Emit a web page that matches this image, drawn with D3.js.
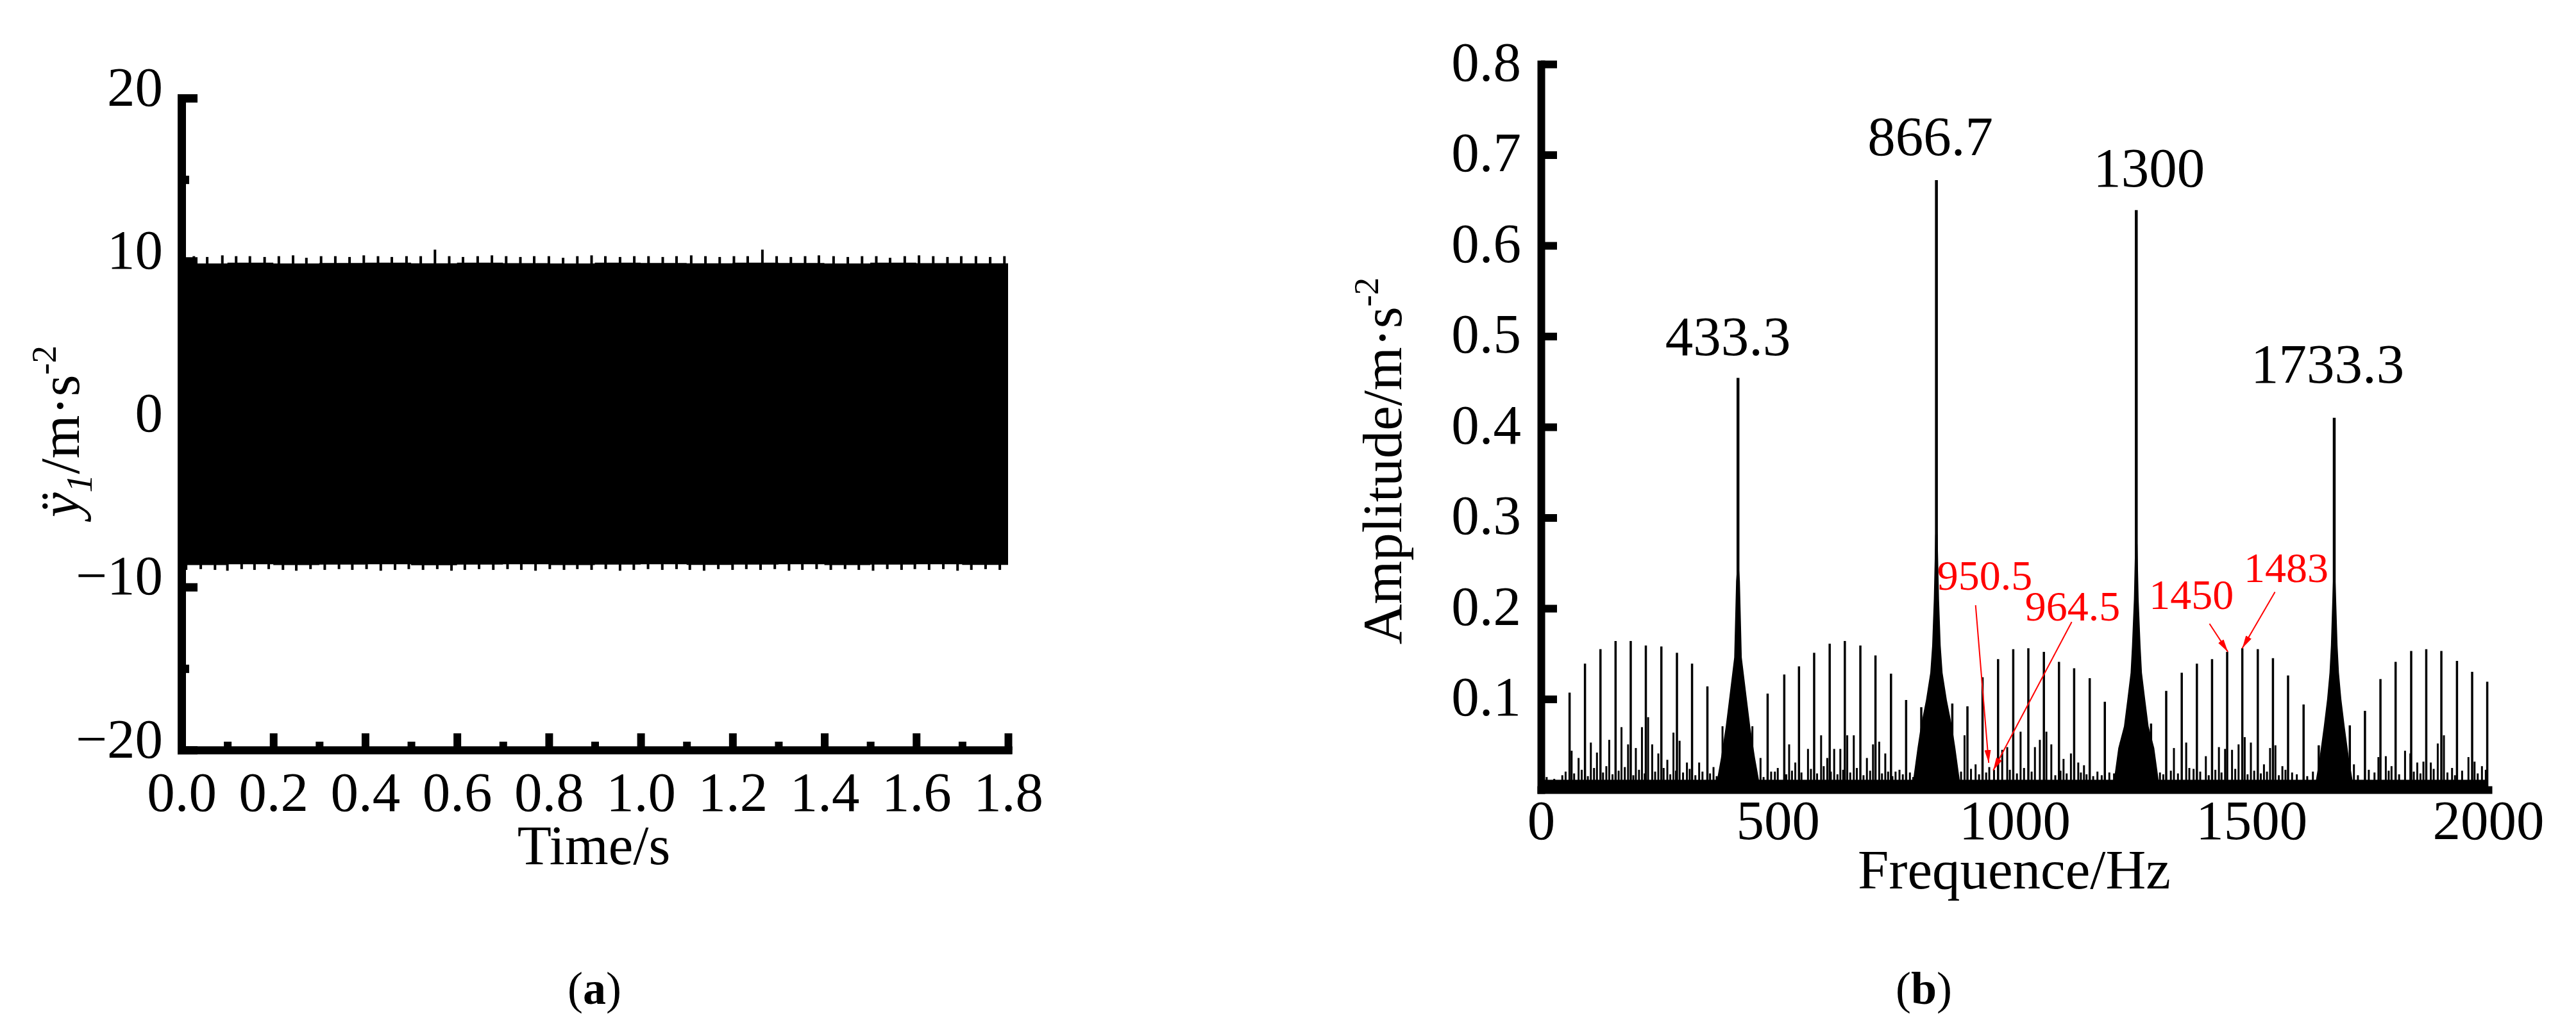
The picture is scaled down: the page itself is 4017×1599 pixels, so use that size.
<!DOCTYPE html>
<html>
<head>
<meta charset="utf-8">
<script src="https://cdn.jsdelivr.net/npm/d3@7"></script>
<style>
    body { margin: 0; background: #fff; }
    svg { display: block; font-family: "Liberation Serif", "Times New Roman", serif; }
</style>
</head>
<body>
<svg id="chart" width="4017" height="1599"></svg>
<script>
// ---------- panel (a): time signal ----------
const timeTicks = [0, 0.2, 0.4, 0.6, 0.8, 1.0, 1.2, 1.4, 1.6, 1.8];
const timeMinorTicks = [0.1, 0.3, 0.5, 0.7, 0.9, 1.1, 1.3, 1.5, 1.7];
const accTicks = [-20, -10, 0, 10, 20];
const accMinorTicks = [-15, -5, 5, 15];

// envelope of the dense oscillation (m/s^2)
const envTimes = [0, 0.1, 0.2, 0.3, 0.4, 0.5, 0.6, 0.7, 0.8, 0.9, 1.0, 1.1, 1.2, 1.3, 1.4, 1.5, 1.6, 1.7, 1.8];
const envUpper = [9.85, 9.9, 9.85, 9.88, 9.9, 9.86, 9.9, 9.87, 9.85, 9.9, 9.88, 9.86, 9.9, 9.88, 9.85, 9.9, 9.87, 9.86, 9.86];
const envLower = [-8.65, -8.6, -8.65, -8.62, -8.6, -8.66, -8.62, -8.6, -8.65, -8.62, -8.6, -8.64, -8.62, -8.6, -8.65, -8.62, -8.6, -8.64, -8.64];

// small spikes sticking out of the envelope
const spikeUpT = [0.027, 0.056, 0.089, 0.119, 0.149, 0.181, 0.212, 0.243, 0.272, 0.304, 0.335, 0.366, 0.397, 0.428, 0.458, 0.49,
    0.521, 0.552, 0.583, 0.613, 0.645, 0.676, 0.707, 0.738, 0.768, 0.8, 0.831, 0.862, 0.893, 0.923, 0.955, 0.986, 1.017, 1.048,
    1.078, 1.11, 1.141, 1.172, 1.203, 1.233, 1.265, 1.296, 1.327, 1.358, 1.388, 1.42, 1.451, 1.482, 1.513, 1.543, 1.575, 1.606,
    1.637, 1.668, 1.698, 1.73, 1.761, 1.792];
const spikeUpV = [10.3, 10.25, 10.35, 10.3, 10.3, 10.25, 10.3, 10.35, 10.2, 10.3, 10.3, 10.25, 10.35, 10.3, 10.25, 10.3,
    10.3, 10.7, 10.3, 10.25, 10.3, 10.35, 10.3, 10.25, 10.3, 10.3, 10.2, 10.3, 10.35, 10.3, 10.25, 10.3, 10.3, 10.25,
    10.3, 10.35, 10.3, 10.25, 10.3, 10.3, 10.7, 10.3, 10.25, 10.3, 10.35, 10.3, 10.25, 10.3, 10.3, 10.2, 10.3, 10.35,
    10.3, 10.25, 10.3, 10.3, 10.25, 10.3];
const spikeLowT = [0.01, 0.042, 0.073, 0.1, 0.131, 0.159, 0.19, 0.221, 0.25, 0.281, 0.312, 0.343, 0.372, 0.403, 0.434, 0.465,
    0.495, 0.526, 0.557, 0.588, 0.617, 0.648, 0.679, 0.71, 0.74, 0.771, 0.802, 0.833, 0.862, 0.893, 0.924, 0.955, 0.985, 1.016,
    1.047, 1.078, 1.107, 1.138, 1.169, 1.2, 1.23, 1.261, 1.292, 1.323, 1.352, 1.383, 1.414, 1.445, 1.475, 1.506, 1.537, 1.568,
    1.597, 1.628, 1.659, 1.69, 1.72, 1.751, 1.782];
const spikeLowV = [-8.95, -8.9, -8.95, -9.0, -8.9, -8.95, -8.9, -8.95, -9.0, -8.9, -8.95, -8.9, -8.95, -8.9, -9.0, -8.95,
    -8.9, -8.95, -8.9, -9.0, -8.95, -8.9, -8.95, -8.9, -8.95, -9.0, -8.9, -8.95, -8.9, -8.95, -8.9, -9.0, -8.95, -8.9,
    -8.95, -8.9, -8.95, -9.0, -8.9, -8.95, -8.9, -8.95, -8.9, -9.0, -8.95, -8.9, -8.95, -8.9, -8.95, -9.0, -8.9, -8.95,
    -8.9, -8.95, -8.9, -9.0, -8.95, -8.9, -8.95];

// ---------- panel (b): amplitude spectrum ----------
const freqTicks = [0, 500, 1000, 1500, 2000];
const ampTicks = [0.1, 0.2, 0.3, 0.4, 0.5, 0.6, 0.7, 0.8];
const floorAmp = 0.011;

// the four dominant peaks, as plotted
const peakFreq = [416, 835, 1257, 1675];
const peakAmp = [0.454, 0.672, 0.639, 0.41];
// broad base around each peak: offsets (Hz) and heights
const skirtOffsets = [
    [-48, -36, -26, -18, -8, -4, 0, 4, 8, 18, 26, 36, 48],
    [-52, -40, -33, -22, -13, -9, -5.5, -2.5, 0, 2.5, 5.5, 9, 13, 22, 33, 40, 52],
    [-50, -38, -26, -19, -12, -9, -5, -2.5, 0, 2.5, 5, 9, 12, 19, 26, 38, 50],
    [-42, -31, -22, -15, -10, -7, -4, -2, 0, 2, 4, 7, 10, 15, 22, 31, 42]
];
const skirtAmps = [
    [0, 0.035, 0.069, 0.103, 0.146, 0.23, 0.26, 0.23, 0.146, 0.103, 0.069, 0.035, 0],
    [0, 0.046, 0.07, 0.099, 0.129, 0.159, 0.21, 0.28, 0.3, 0.28, 0.21, 0.159, 0.129, 0.099, 0.07, 0.046, 0],
    [0, 0.046, 0.07, 0.099, 0.129, 0.159, 0.21, 0.27, 0.29, 0.27, 0.21, 0.159, 0.129, 0.099, 0.07, 0.046, 0],
    [0, 0.035, 0.07, 0.1, 0.129, 0.159, 0.21, 0.24, 0.25, 0.24, 0.21, 0.159, 0.129, 0.1, 0.07, 0.035, 0]
];

// comb of side lines
const combFreq = [60.4, 92.9, 125.6, 157.5, 189.5, 221.4, 254.2, 287.1, 319.0, 351.4,
    478.6, 513.7, 544.8, 576.8, 609.6, 641.6, 674.4, 706.3, 739.1, 771.0, 803,
    868.5, 900.5, 932.4, 965.2, 997.2, 1029.1, 1061.9, 1093.8, 1125.8, 1158.7, 1190.6,
    1288.2, 1320.2, 1353.0, 1385.0, 1417.0, 1448.9, 1480.9, 1513.6, 1545.6, 1577.5, 1610.3, 1642.3,
    1707.9, 1739.9, 1772.6, 1804.6, 1837.5, 1869.3, 1901.2, 1934.2, 1966.2, 1998.1];
const combAmp = [0.107, 0.139, 0.155, 0.164, 0.164, 0.159, 0.158, 0.151, 0.139, 0.114,
    0.106, 0.127, 0.136, 0.151, 0.161, 0.164, 0.159, 0.148, 0.128, 0.099, 0.091,
    0.095, 0.092, 0.124, 0.144, 0.155, 0.156, 0.152, 0.141, 0.134, 0.123, 0.097,
    0.073, 0.109, 0.129, 0.139, 0.144, 0.152, 0.156, 0.155, 0.145, 0.126, 0.094, 0.049,
    0.071, 0.087, 0.122, 0.141, 0.153, 0.155, 0.153, 0.142, 0.130, 0.119];

// low-level lines between the comb
const minorFreq = [5, 64.7, 79.4, 105.3, 118.2, 144.1, 170, 183.9, 200.3, 213.2, 226.2, 234.8, 247.8, 266.8, 279.7, 292.7,
    308.2, 334, 364.3, 383.3, 446.4, 463.6, 493.9, 524, 537, 563.8, 591.5, 604.5, 619.1, 632.1, 646.7, 660.5, 688.2,
    701.1, 714.2, 727, 748.7, 894.4, 917.7, 946.6, 956.6, 973.9, 984.5, 1012.7, 1043, 1053.4, 1067.2, 1077.6, 1103.4,
    1119, 1134.5, 1146.6, 1200.1, 1224.3, 1336.5, 1362.4, 1378, 1403.9, 1431.5, 1444.5, 1459.2, 1473, 1486, 1499,
    1526.6, 1539.5, 1550.8, 1565.5, 1716.6, 1768.3, 1783.9, 1796, 1824.5, 1835.7, 1850.4, 1863.3, 1878.9, 1893.6,
    1906.6, 1923.8, 1958.4, 1971.3, 1986.9, 1995];
const minorAmp = [0.023, 0.043, 0.035, 0.052, 0.041, 0.055, 0.069, 0.05, 0.046, 0.069, 0.08, 0.05, 0.04, 0.033, 0.063, 0.054,
    0.03, 0.03, 0.025, 0.07, 0.07, 0.035, 0.02, 0.05, 0.03, 0.045, 0.06, 0.035, 0.045, 0.045, 0.06, 0.06, 0.035,
    0.05, 0.053, 0.04, 0.02, 0.06, 0.028, 0.025, 0.022, 0.044, 0.047, 0.064, 0.047, 0.055, 0.064, 0.05, 0.034,
    0.04, 0.03, 0.027, 0.019, 0.052, 0.046, 0.052, 0.023, 0.037, 0.047, 0.045, 0.044, 0.05, 0.058, 0.052,
    0.028, 0.046, 0.049, 0.026, 0.028, 0.036, 0.037, 0.026, 0.043, 0.04, 0.03, 0.031, 0.03, 0.051,
    0.06, 0.024, 0.036, 0.031, 0.026, 0.022];

// very small lines that thicken the floor
const tinyFreq = [12, 28, 45, 52, 70, 86, 99, 112, 131, 138, 151, 164, 177, 195, 207, 219, 241, 259, 273, 285, 300, 314,
    326, 341, 357, 371, 391, 400, 436, 455, 470, 486, 500, 518, 530, 550, 570, 583, 597, 612, 626, 638, 653, 667, 681,
    695, 720, 733, 742, 757, 764, 779, 786, 812, 858, 877, 887, 908, 925, 940, 990, 1005, 1020, 1036, 1086, 1097, 1110,
    1140, 1152, 1166, 1175, 1184, 1210, 1234, 1298, 1307, 1314, 1330, 1345, 1369, 1392, 1410, 1424, 1437, 1466, 1492,
    1506, 1520, 1533, 1558, 1572, 1586, 1596, 1618, 1630, 1700, 1725, 1748, 1760, 1790, 1812, 1843, 1857, 1885, 1914,
    1930, 1945, 1978];
const tinyAmp = [0.014, 0.012, 0.016, 0.02, 0.018, 0.022, 0.015, 0.024, 0.019, 0.026, 0.017, 0.021, 0.025, 0.016, 0.022,
    0.018, 0.02, 0.024, 0.017, 0.021, 0.019, 0.023, 0.016, 0.02, 0.018, 0.015, 0.017, 0.013, 0.022, 0.018, 0.014,
    0.02, 0.024, 0.017, 0.021, 0.019, 0.023, 0.018, 0.026, 0.02, 0.017, 0.022, 0.019, 0.024, 0.016, 0.021, 0.018,
    0.02, 0.015, 0.022, 0.017, 0.019, 0.014, 0.021, 0.018, 0.016, 0.02, 0.023, 0.017, 0.019, 0.022, 0.018, 0.024,
    0.02, 0.016, 0.021, 0.018, 0.019, 0.017, 0.015, 0.02, 0.016, 0.018, 0.015, 0.022, 0.019, 0.017, 0.021, 0.018,
    0.024, 0.02, 0.016, 0.022, 0.019, 0.023, 0.017, 0.021, 0.018, 0.02, 0.016, 0.022, 0.019, 0.017, 0.015, 0.02,
    0.018, 0.016, 0.022, 0.019, 0.021, 0.017, 0.02, 0.018, 0.023, 0.019, 0.016, 0.021, 0.018];

// black peak labels (centre Hz, baseline amplitude)
const peakLabels = ["433.3", "866.7", "1300", "1733.3"];
const peakLabelHz = [395, 822, 1284, 1661];
const peakLabelAmp = [0.479, 0.6996, 0.665, 0.449];

// red annotations: text start, baseline, arrow from -> to
const noteLabels = ["950.5", "964.5", "1450", "1483"];
const noteHz = [836.6, 1022, 1284, 1484];
const noteAmp = [0.2205, 0.1866, 0.1993, 0.229];
const arrowFromHz = [917.7, 1120.7, 1411.6, 1549.9];
const arrowFromAmp = [0.2035, 0.185, 0.183, 0.218];
const arrowToHz = [945.4, 954.9, 1450.5, 1480.8];
const arrowToAmp = [0.0297, 0.0214, 0.152, 0.156];

const FONT = 87;
const svg = d3.select("#chart");

function styleAxis(g, width) {
    g.attr("font-size", FONT)
        .attr("font-family", '"Liberation Serif", "Times New Roman", serif');
    g.select(".domain").attr("stroke-width", width).attr("stroke-linecap", "square");
    g.selectAll(".tick line").attr("stroke-width", width);
    g.selectAll(".tick text").attr("fill", "#000");
}

// ================= panel (a) =================
const xA = d3.scaleLinear().domain([0, 1.8]).range([283, 1572]);
const yA = d3.scaleLinear().domain([-20, 20]).range([1170, 153]);
const gA = svg.append("g");

// dense oscillation drawn as its filled envelope
const envArea = d3.area()
    .curve(d3.curveStepAfter)
    .x(d => xA(d[0]))
    .y0(d => yA(d[2]))
    .y1(d => yA(d[1]));
gA.append("path")
    .datum(d3.zip(envTimes, envUpper, envLower))
    .attr("fill", "#000")
    .attr("d", envArea);

gA.append("g").selectAll("line")
    .data(d3.zip(spikeUpT, spikeUpV))
    .join("line")
    .attr("x1", d => xA(d[0])).attr("x2", d => xA(d[0]))
    .attr("y1", yA(9.5)).attr("y2", d => yA(d[1]))
    .attr("stroke", "#000").attr("stroke-width", 4);

gA.append("g").selectAll("line")
    .data(d3.zip(spikeLowT, spikeLowV))
    .join("line")
    .attr("x1", d => xA(d[0])).attr("x2", d => xA(d[0]))
    .attr("y1", yA(-8.3)).attr("y2", d => yA(d[1]))
    .attr("stroke", "#000").attr("stroke-width", 4);

// axes with inward ticks
const ayMinor = gA.append("g").attr("transform", `translate(${xA(0)},0)`)
    .call(d3.axisLeft(yA).tickValues(accMinorTicks).tickSize(-12).tickSizeOuter(0).tickFormat(""));
styleAxis(ayMinor, 13);
const ay = gA.append("g").attr("transform", `translate(${xA(0)},0)`)
    .call(d3.axisLeft(yA).tickValues(accTicks).tickSize(-25).tickSizeOuter(0).tickPadding(29).tickFormat(d3.format("d")));
styleAxis(ay, 13);
ay.selectAll(".tick text").attr("dy", 11);

const axMinor = gA.append("g").attr("transform", `translate(0,${yA(-20)})`)
    .call(d3.axisBottom(xA).tickValues(timeMinorTicks).tickSize(-13).tickSizeOuter(0).tickFormat(""));
styleAxis(axMinor, 12);
const ax = gA.append("g").attr("transform", `translate(0,${yA(-20)})`)
    .call(d3.axisBottom(xA).tickValues(timeTicks).tickSize(-26).tickSizeOuter(0).tickFormat(d3.format(".1f")));
styleAxis(ax, 12);
ax.selectAll(".tick text").attr("y", 95).attr("dy", 0);
ax.selectAll(".tick").filter(d => d === 0).select("line").remove();

gA.append("text")
    .attr("x", 926).attr("y", 1348)
    .attr("text-anchor", "middle")
    .attr("font-size", FONT)
    .text("Time/s");

const yLabA = gA.append("text")
    .attr("transform", "translate(123,673) rotate(-90)")
    .attr("text-anchor", "middle")
    .attr("font-size", FONT);
yLabA.append("tspan").attr("font-style", "italic").text("ÿ");
yLabA.append("tspan").attr("font-style", "italic").attr("font-size", 58).attr("dy", 20).text("1");
yLabA.append("tspan").attr("dy", -20).text("/m·s");
yLabA.append("tspan").attr("font-size", 55).attr("dy", -36).text("-2");

const capA = svg.append("text")
    .attr("x", 927).attr("y", 1566)
    .attr("text-anchor", "middle")
    .attr("font-size", 72);
capA.append("tspan").text("(");
capA.append("tspan").attr("font-weight", "bold").text("a");
capA.append("tspan").text(")");

// ================= panel (b) =================
const xB = d3.scaleLinear().domain([0, 2000]).range([2403, 3880]);
const yB = d3.scaleLinear().domain([0, 0.8]).range([1232, 100]);
const gB = svg.append("g");

// noise floor
gB.append("rect")
    .attr("x", xB(0)).attr("y", yB(floorAmp))
    .attr("width", xB(2000) - xB(0))
    .attr("height", yB(0) - yB(floorAmp))
    .attr("fill", "#000");

// bases of the dominant peaks
const skirtArea = d3.area()
    .x(d => xB(d[0]))
    .y0(yB(0))
    .y1(d => yB(d[1]));
gB.append("g").selectAll("path")
    .data(peakFreq.map((f, i) => skirtOffsets[i].map((o, j) => [f + o, skirtAmps[i][j]])))
    .join("path")
    .attr("fill", "#000")
    .attr("d", skirtArea);

function drawLines(freqs, amps, width) {
    gB.append("g").selectAll("line")
        .data(d3.zip(freqs, amps))
        .join("line")
        .attr("x1", d => xB(d[0])).attr("x2", d => xB(d[0]))
        .attr("y1", yB(0)).attr("y2", d => yB(d[1]))
        .attr("stroke", "#000")
        .attr("stroke-width", width);
}
drawLines(tinyFreq, tinyAmp, 3);
drawLines(minorFreq, minorAmp, 3);
drawLines(combFreq, combAmp, 3.5);
drawLines(peakFreq, peakAmp, 4.5);

// axes
const byAxis = gB.append("g").attr("transform", `translate(${xB(0)},0)`)
    .call(d3.axisLeft(yB).tickValues(ampTicks).tickSize(-25).tickSizeOuter(0).tickPadding(31).tickFormat(d3.format(".1f")));
styleAxis(byAxis, 12);
byAxis.selectAll(".tick text").attr("dy", 25);

const bxAxis = gB.append("g").attr("transform", `translate(0,${yB(0)})`)
    .call(d3.axisBottom(xB).tickValues(freqTicks).tickSize(0).tickSizeOuter(0).tickFormat(d3.format("d")));
styleAxis(bxAxis, 12);
bxAxis.selectAll(".tick text").attr("y", 77).attr("dy", 0);

gB.append("text")
    .attr("x", 3141).attr("y", 1386)
    .attr("text-anchor", "middle")
    .attr("font-size", FONT)
    .text("Frequence/Hz");

const yLabB = gB.append("text")
    .attr("transform", "translate(2185,719) rotate(-90)")
    .attr("text-anchor", "middle")
    .attr("font-size", FONT);
yLabB.append("tspan").text("Amplitude/m·s");
yLabB.append("tspan").attr("font-size", 55).attr("dy", -36).text("-2");

// peak labels
gB.append("g").selectAll("text")
    .data(peakLabels)
    .join("text")
    .attr("x", (d, i) => xB(peakLabelHz[i]))
    .attr("y", (d, i) => yB(peakLabelAmp[i]))
    .attr("text-anchor", "middle")
    .attr("font-size", FONT)
    .text(d => d);

// red annotations with arrows
svg.append("defs").append("marker")
    .attr("id", "redArrow")
    .attr("viewBox", "0 0 20 10")
    .attr("refX", 20).attr("refY", 5)
    .attr("markerWidth", 20).attr("markerHeight", 10)
    .attr("markerUnits", "userSpaceOnUse")
    .attr("orient", "auto")
    .append("path")
    .attr("d", "M0,0L20,5L0,10Z")
    .attr("fill", "#ff0000");

gB.append("g").selectAll("line")
    .data(noteLabels)
    .join("line")
    .attr("x1", (d, i) => xB(arrowFromHz[i]))
    .attr("y1", (d, i) => yB(arrowFromAmp[i]))
    .attr("x2", (d, i) => xB(arrowToHz[i]))
    .attr("y2", (d, i) => yB(arrowToAmp[i]))
    .attr("stroke", "#ff0000")
    .attr("stroke-width", 2)
    .attr("marker-end", "url(#redArrow)");

gB.append("g").selectAll("text")
    .data(noteLabels)
    .join("text")
    .attr("x", (d, i) => xB(noteHz[i]))
    .attr("y", (d, i) => yB(noteAmp[i]))
    .attr("font-size", 66)
    .attr("fill", "#ff0000")
    .text(d => d);

const capB = svg.append("text")
    .attr("x", 3000).attr("y", 1566)
    .attr("text-anchor", "middle")
    .attr("font-size", 72);
capB.append("tspan").text("(");
capB.append("tspan").attr("font-weight", "bold").text("b");
capB.append("tspan").text(")");
</script>
</body>
</html>
